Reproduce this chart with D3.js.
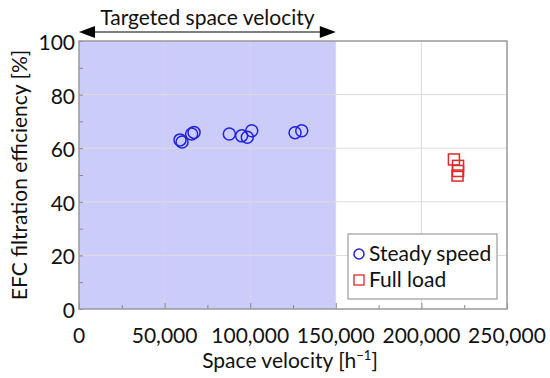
<!DOCTYPE html>
<html lang="en">
<head>
<meta charset="UTF-8">
<style>
    body { margin: 0; padding: 0; background: #fff; overflow: hidden; }
    svg { display: block; font-family: Lato, "Noto Sans", sans-serif; }
    .grid line { stroke: #dcdcdc; stroke-width: 1; }
    .ticklbl { font-size: 21px; fill: #111; }
</style>
</head>
<body>
<svg id="chart" width="550" height="378"></svg>
<script src="https://d3js.org/d3.v7.min.js"></script>
<script>
// steady speed points
const steadySV = [59000, 60200, 65800, 67200, 87800, 95000, 98300, 100900, 126200, 130100];
const steadyEff = [63.1, 62.3, 65.3, 65.9, 65.3, 64.6, 64.1, 66.5, 65.8, 66.5];
// full load points
const fullSV = [219000, 221400, 221400, 221100];
const fullEff = [55.8, 53.4, 51.5, 49.8];

const xTicks = [0, 50000, 100000, 150000, 200000, 250000];
const yTicks = [0, 20, 40, 60, 80, 100];
const targetRange = [0, 150000];
const legendNames = ["Steady speed", "Full load"];

const margin = { left: 79, right: 43, top: 41, bottom: 69 };
const W = 550, H = 378;

const svg = d3.select("#chart");

const x = d3.scaleLinear().domain([0, 250000]).range([margin.left, W - margin.right]);
const y = d3.scaleLinear().domain([0, 100]).range([H - margin.bottom, margin.top]);

const blue = "#2222dd", red = "#e02828";

// shaded target region
svg.append("rect")
    .attr("x", x(targetRange[0]))
    .attr("y", y(100))
    .attr("width", x(targetRange[1]) - x(targetRange[0]))
    .attr("height", y(0) - y(100))
    .attr("fill", "#ccccfb");

// grid
const grid = svg.append("g").attr("class", "grid");
grid.selectAll(".vg").data(xTicks.slice(1, -1)).enter().append("line")
    .attr("x1", d => x(d)).attr("x2", d => x(d))
    .attr("y1", y(0)).attr("y2", y(100))
    .attr("stroke-opacity", d => d <= targetRange[1] ? 0.5 : 1);
grid.selectAll(".hg").data(yTicks.slice(1, -1)).enter().append("line")
    .attr("y1", d => y(d)).attr("y2", d => y(d))
    .attr("x1", x(0)).attr("x2", x(250000));

// minor/major inward ticks
const xAxis = d3.axisBottom(x).tickValues(d3.range(0, 250001, 25000))
    .tickSizeInner(-4).tickSizeOuter(0).tickFormat("");
svg.append("g").attr("transform", `translate(0,${y(0)})`).call(xAxis)
    .call(g => g.select(".domain").remove())
    .call(g => g.selectAll("line").attr("stroke", "#888")
        .attr("y2", (d, i) => i % 2 === 0 ? -6 : -4));
const yAxis = d3.axisLeft(y).tickValues(d3.range(0, 101, 10))
    .tickSizeInner(-4).tickSizeOuter(0).tickFormat("");
svg.append("g").attr("transform", `translate(${x(0)},0)`).call(yAxis)
    .call(g => g.select(".domain").remove())
    .call(g => g.selectAll("line").attr("stroke", "#888"));

// frame
svg.append("rect")
    .attr("x", x(0)).attr("y", y(100))
    .attr("width", x(250000) - x(0)).attr("height", y(0) - y(100))
    .attr("fill", "none").attr("stroke", "#999").attr("stroke-width", 1.5);

// tick labels
const fmt = d3.format(",");
svg.selectAll(".xl").data(xTicks).enter().append("text")
    .attr("class", "ticklbl")
    .attr("x", d => x(d)).attr("y", y(0) + 34)
    .attr("text-anchor", "middle")
    .text(d => fmt(d));
svg.selectAll(".yl").data(yTicks).enter().append("text")
    .attr("class", "ticklbl")
    .attr("x", x(0) - 4).attr("y", d => y(d) + 9)
    .attr("text-anchor", "end")
    .text(d => d);

// axis titles
const xt = svg.append("text").attr("class", "ticklbl")
    .attr("x", x(125000) - 3).attr("y", H - 10)
    .attr("text-anchor", "middle");
xt.append("tspan").text("Space velocity [h");
xt.append("tspan").attr("dy", -8).attr("font-size", 13).text("\u22121");
xt.append("tspan").attr("dy", 8).text("]");

svg.append("text").attr("class", "ticklbl")
    .attr("transform", `translate(27,${(y(0) + y(100)) / 2}) rotate(-90)`)
    .attr("text-anchor", "middle")
    .text("EFC filtration efficiency [%]");

// target arrow
const ay = 32;
svg.append("line")
    .attr("x1", x(targetRange[0]) + 8).attr("x2", x(targetRange[1]) - 8)
    .attr("y1", ay).attr("y2", ay)
    .attr("stroke", "#000").attr("stroke-width", 1.2);
const x0 = x(targetRange[0]), x1 = x(targetRange[1]);
svg.append("path")
    .attr("d", `M${x0},${ay} L${x0 + 16},${ay - 6} L${x0 + 16},${ay + 6} Z`)
    .attr("fill", "#000");
svg.append("path")
    .attr("d", `M${x1},${ay} L${x1 - 16},${ay - 6} L${x1 - 16},${ay + 6} Z`)
    .attr("fill", "#000");
svg.append("text").attr("class", "ticklbl")
    .attr("x", (x0 + x1) / 2).attr("y", ay - 7)
    .attr("text-anchor", "middle")
    .text("Targeted space velocity");

// data
const steady = steadySV.map((v, i) => ({ sv: v, eff: steadyEff[i] }));
const full = fullSV.map((v, i) => ({ sv: v, eff: fullEff[i] }));

svg.append("g").selectAll("circle").data(steady).enter().append("circle")
    .attr("cx", d => x(d.sv)).attr("cy", d => y(d.eff)).attr("r", 6)
    .attr("fill", "none").attr("stroke", blue).attr("stroke-width", 1.5);

svg.append("g").selectAll("rect").data(full).enter().append("rect")
    .attr("x", d => x(d.sv) - 5.5).attr("y", d => y(d.eff) - 5.5)
    .attr("width", 11).attr("height", 11)
    .attr("fill", "none").attr("stroke", red).attr("stroke-width", 1.5);

// legend
const lg = svg.append("g");
lg.append("rect").attr("x", 348).attr("y", 234).attr("width", 149).attr("height", 65)
    .attr("fill", "#fff").attr("stroke", "#999").attr("stroke-width", 1.2);
lg.append("circle").attr("cx", 359).attr("cy", 254).attr("r", 5)
    .attr("fill", "none").attr("stroke", blue).attr("stroke-width", 1.5);
lg.append("rect").attr("x", 354).attr("y", 275).attr("width", 10).attr("height", 10)
    .attr("fill", "none").attr("stroke", red).attr("stroke-width", 1.3);
lg.selectAll("text").data(legendNames).enter().append("text")
    .attr("class", "ticklbl")
    .attr("x", 369).attr("y", (d, i) => 261 + i * 26)
    .text(d => d);
</script>
</body>
</html>
